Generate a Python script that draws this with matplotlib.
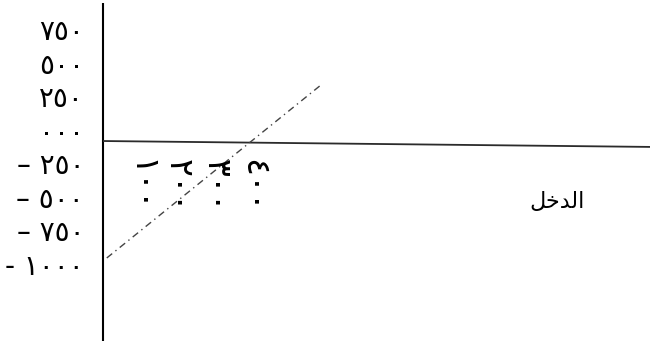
import matplotlib
matplotlib.use("Agg")
import matplotlib.pyplot as plt

plt.rcParams['font.family'] = ['DejaVu Sans']

# Axis labels (Arabic-Indic numerals)
y_values = [750, 500, 250, 0, -250, -500, -750, -1000]
y_labels = ["٧٥٠", "٥٠٠", "٢٥٠", "٠٠٠", "– ٢٥٠", "– ٥٠٠", "– ٧٥٠", "- ١٠٠٠"]
x_values = [100, 200, 300, 400]
x_labels = ["١٠٠", "٢٠٠", "٣٠٠", "٤٠٠"]
axis_title = "الدخل"

# Dash-dot line end points
line_x = [10, 575]
line_y = [-933, 348]

# Horizontal axis (slightly tilted)
haxis_x = [0, 1451]
haxis_y = [-62, -106]

# Simple contextual shaping for the Arabic title
FORMS = {
    'ا': ('\uFE8D', '\uFE8E', None, None),
    'ل': ('\uFEDD', '\uFEDE', '\uFEDF', '\uFEE0'),
    'د': ('\uFEA9', '\uFEAA', None, None),
    'خ': ('\uFEA5', '\uFEA6', '\uFEA7', '\uFEA8'),
}
NON_JOIN_LEFT = {'ا', 'د'}


def shape(text):
    out = []
    for i, ch in enumerate(text):
        if ch not in FORMS:
            out.append(ch)
            continue
        prev_joins = i > 0 and text[i - 1] in FORMS and text[i - 1] not in NON_JOIN_LEFT
        next_joins = (i + 1 < len(text) and text[i + 1] in FORMS
                      and FORMS[ch][2] is not None)
        iso, fin, ini, med = FORMS[ch]
        if prev_joins and next_joins:
            out.append(med)
        elif prev_joins:
            out.append(fin)
        elif next_joins:
            out.append(ini)
        else:
            out.append(iso)
    return ''.join(reversed(out))


fig = plt.figure(figsize=(6.5, 3.43), dpi=100)
ax = fig.add_axes([0, 0, 1, 1])
ax.set_xlim(-273.2, 1451)
ax.set_ylim(-1566, 988)
ax.axis('off')

# Vertical axis
ax.plot([0, 0], [965, -1550], color='black', lw=1.5, solid_capstyle='butt')
# Horizontal axis
ax.plot(haxis_x, haxis_y, color='#2b2b2b', lw=1.3, solid_capstyle='butt')
# Dash-dot line
ax.plot(line_x, line_y, color='#444444', lw=1.0, linestyle=(0, (5, 3, 1, 3)))

for v, lab in zip(y_values, y_labels):
    ax.text(-50, v, lab, ha='right', va='center', fontsize=20, color='black')

for v, lab in zip(x_values, x_labels):
    ax.text(v, -395, lab, ha='center', va='center', rotation=-90,
            fontsize=24, color='black')

ax.text(1204, -516, shape(axis_title), ha='center', va='center',
        fontsize=16, color='black')

fig.savefig('out.png', dpi=100)
